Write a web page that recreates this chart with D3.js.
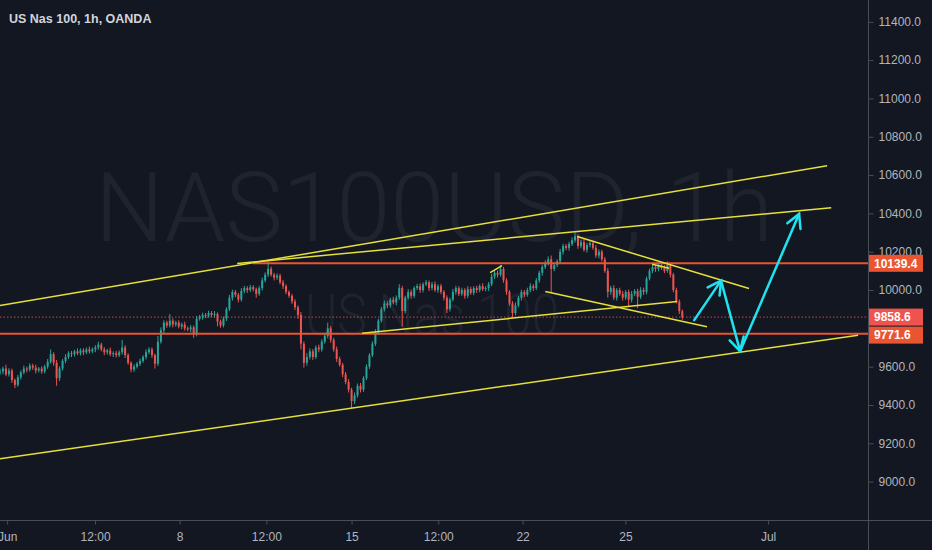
<!DOCTYPE html>
<html><head><meta charset="utf-8">
<script src="https://cdn.jsdelivr.net/npm/d3@7"></script>
<style>html,body{margin:0;padding:0;background:#131722;overflow:hidden}</style>
</head><body><svg id="c" width="932" height="550"></svg>
<script>
// ---- data (2-hour candles, open = previous close) ----
const firstOpen = 9570;
const closes = [
9575,9590,9560,9580,9530,9505,9545,9570,9590,9585,
9605,9595,9580,9590,9575,9600,9625,9665,9620,9540,
9590,9630,9650,9670,9665,9680,9670,9685,9675,9690,
9680,9690,9700,9715,9690,9675,9685,9665,9670,9660,
9675,9700,9660,9620,9585,9600,9615,9630,9650,9675,
9690,9660,9615,9730,9790,9830,9815,9840,9820,9830,
9810,9820,9800,9795,9805,9770,9850,9860,9870,9865,
9880,9870,9875,9835,9815,9850,9900,9960,9990,9975,
9950,9995,10010,10000,10015,10005,9980,10010,10050,10080,
10110,10080,10065,10075,10040,10020,9990,9970,9940,9910,
9870,9720,9620,9650,9680,9650,9700,9690,9730,9760,
9800,9740,9690,9640,9610,9560,9520,9480,9420,9450,
9500,9480,9540,9600,9660,9720,9780,9840,9900,9930,
9920,9950,9935,9960,10010,9890,9960,9990,9970,10010,
10020,10000,10030,10040,10010,10030,10000,10020,9990,9960,
9900,9950,9990,10010,9980,10000,9970,10005,9985,10010,
10000,10020,10005,10010,10030,10070,10090,10080,10110,10050,
9990,9930,9880,9920,9960,9990,9975,10000,10020,10010,
10050,10090,10120,10140,10160,10110,10130,10150,10200,10230,
10220,10240,10260,10280,10230,10250,10210,10235,10245,10220,
10180,10200,10160,10100,9990,10010,9960,10000,9980,9960,
9990,9950,9980,9995,9965,10000,9990,10060,10100,10120,
10110,10130,10115,10100,10130,10080,10000,9940,9890,9858.6];
const wickUp = [
15,10,20,12,10,8,12,10,15,10, 12,10,15,8,12,10,15,25,10,15,
12,10,15,10,12,8,15,10,12,10, 15,10,12,15,10,12,8,15,10,12,
10,40,12,10,8,12,10,12,10,15, 12,10,8,30,15,12,10,35,12,10,
12,10,15,10,12,10,15,10,12,10, 12,10,15,8,10,12,10,15,12,10,
10,15,12,10,12,10,8,12,15,12, 45,12,10,12,10,12,10,8,10,12,
10,15,12,20,15,12,10,15,12,15, 30,12,10,15,12,10,12,15,10,15,
12,15,10,12,10,12,15,10,12,15, 12,10,15,12,20,12,10,15,12,10,
12,15,10,12,10,12,15,10,12,10, 12,10,15,12,10,12,10,15,12,10,
12,10,15,10,12,15,10,12,20,10, 12,10,12,15,10,12,10,12,15,10,
12,10,12,15,15,20,12,10,15,12, 10,12,15,20,10,12,15,12,10,12,
15,12,10,12,15,12,15,10,12,15, 10,12,15,10,12,15,12,10,12,15,
10,12,10,15,20,12,10,12,10,8];
const wickDn = [
12,15,10,12,15,17,10,12,10,15, 10,12,15,10,12,10,12,10,15,40,
15,10,12,10,15,12,10,12,15,10, 12,10,15,12,10,15,12,10,15,12,
10,12,15,10,15,12,10,12,10,12, 10,15,25,12,10,15,12,10,15,12,
10,15,12,10,15,20,12,10,15,12, 10,12,15,25,12,10,12,10,15,12,
15,10,12,15,10,12,20,10,12,10, 12,10,15,12,10,15,12,10,12,15,
20,30,25,15,12,15,10,15,12,10, 12,15,12,15,10,15,12,15,36,15,
12,15,12,10,12,10,12,15,10,12, 15,12,10,15,12,80,12,10,15,12,
10,15,12,10,15,12,10,15,12,15, 20,12,10,15,12,10,15,12,10,12,
15,12,10,12,15,10,12,15,10,12, 15,12,23,12,10,15,12,10,12,15,
10,12,15,10,12,125,12,10,12,15, 12,15,10,12,15,12,10,15,12,10,
12,15,12,10,30,15,12,15,10,15, 12,40,15,12,60,12,15,12,10,12,
15,12,10,12,10,15,12,10,15,14];

const priceTicks = [9000,9200,9400,9600,9800,10000,10200,10400,10600,10800,11000,11200,11400];
const timeTickIdx = [2.4,31.9,60.3,89.4,118,147.1,175.4,209.9,257.8];
const timeTickLabels = ["Jun","12:00","8","12:00","15","12:00","22","25","Jul"];

const levelPrices = [10139.4, 9771.6];
const levelStartIdx = [85, -5];
const lastPrice = 9858.6;

// trend lines: [idx1, price1, idx2, price2]
const trendLines = [
  [0, 9919, 277.6, 10649],
  [79.6, 10138, 279, 10430],
  [0, 9119, 288, 9764],
  [121.5, 9774, 227.3, 9940],
  [183, 9992, 237.3, 9808],
  [193.7, 10279, 251.4, 10008],
  [164.5, 10091, 168.5, 10127],
  [218.9, 10135, 224.6, 10114]
];
// arrows: [idxFrom, priceFrom, idxTo, priceTo]
const arrows = [
  [233, 9843, 242, 10049],
  [242, 10049, 248.4, 9681],
  [248.4, 9681, 268.2, 10397]
];

// ---- drawing ----
const W = 932, H = 550, PW = 868, PH = 520;
const svg = d3.select("#c");
const x = d3.scaleLinear().domain([0, 292]).range([0, 870]);
const y = d3.scaleLinear().domain([9000, 11400]).range([481.6, 21.8]);

svg.append("rect").attr("width", W).attr("height", H).attr("fill", "#131722");
svg.append("defs").append("clipPath").attr("id", "plot")
  .append("rect").attr("width", PW).attr("height", PH);

// watermarks
const wm = svg.append("g").attr("fill", "rgba(255,255,255,0.055)").attr("font-family", "Roboto, 'Noto Sans', sans-serif").attr("font-weight", 300);
wm.append("text").attr("x", 95).attr("y", 241).attr("font-size", 96)
  .attr("textLength", 678).attr("lengthAdjust", "spacingAndGlyphs").text("NAS100USD, 1h");
wm.append("text").attr("x", 305).attr("y", 335).attr("font-size", 58)
  .attr("textLength", 254).attr("lengthAdjust", "spacingAndGlyphs").text("US Nas 100");

const plot = svg.append("g").attr("clip-path", "url(#plot)");

// candles
const candles = closes.map((c, i) => {
  const o = i === 0 ? firstOpen : closes[i - 1];
  return { i, o, c, h: Math.max(o, c) + wickUp[i], l: Math.min(o, c) - wickDn[i] };
});
const cg = plot.append("g");
cg.selectAll("line.w").data(candles).join("line")
  .attr("x1", d => x(d.i)).attr("x2", d => x(d.i))
  .attr("y1", d => y(d.h)).attr("y2", d => y(d.l))
  .attr("stroke", d => d.c >= d.o ? "#26a69a" : "#ef5350").attr("stroke-width", 1);
cg.selectAll("rect.b").data(candles).join("rect")
  .attr("x", d => x(d.i) - 1).attr("width", 2)
  .attr("y", d => y(Math.max(d.o, d.c)))
  .attr("height", d => Math.max(1, Math.abs(y(d.o) - y(d.c))))
  .attr("fill", d => d.c >= d.o ? "#26a69a" : "#ef5350");

// last price dotted line
plot.append("line").attr("x1", 0).attr("x2", PW).attr("y1", y(lastPrice)).attr("y2", y(lastPrice))
  .attr("stroke", "#ef5350").attr("stroke-width", 1).attr("stroke-dasharray", "1.5 2").attr("opacity", 0.85);

// horizontal levels
const orange = "#ea5430";
levelPrices.forEach((p, k) => {
  plot.append("line").attr("x1", x(levelStartIdx[k])).attr("x2", PW)
    .attr("y1", y(p)).attr("y2", y(p)).attr("stroke", orange).attr("stroke-width", 2);
});

// trend lines
plot.selectAll("line.t").data(trendLines).join("line")
  .attr("x1", d => x(d[0])).attr("y1", d => y(d[1]))
  .attr("x2", d => x(d[2])).attr("y2", d => y(d[3]))
  .attr("stroke", "#e6e03a").attr("stroke-width", 1.5);

// arrows
const cyan = "#1fe3f0";
arrows.forEach(a => {
  const x1 = x(a[0]), y1 = y(a[1]), x2 = x(a[2]), y2 = y(a[3]);
  const ang = Math.atan2(y1 - y2, x1 - x2), L = 15, sp = 0.5;
  const g = plot.append("g").attr("stroke", cyan).attr("stroke-width", 2.5).attr("stroke-linecap", "round").attr("fill", "none");
  g.append("line").attr("x1", x1).attr("y1", y1).attr("x2", x2).attr("y2", y2);
  g.append("path").attr("d",
    `M${x2 + L * Math.cos(ang + sp)},${y2 + L * Math.sin(ang + sp)}L${x2},${y2}L${x2 + L * Math.cos(ang - sp)},${y2 + L * Math.sin(ang - sp)}`);
});

// axes frame
svg.append("line").attr("x1", 0).attr("x2", W).attr("y1", PH + 0.5).attr("y2", PH + 0.5).attr("stroke", "#4a4d58");
svg.append("line").attr("x1", PW + 0.5).attr("x2", PW + 0.5).attr("y1", 0).attr("y2", H).attr("stroke", "#4a4d58");

// price label boxes (positions resolved first so covered tick labels can be hidden)
const boxes = [
  { p: levelPrices[0], col: orange },
  { p: lastPrice, col: "#ef5350" },
  { p: levelPrices[1], col: orange }
].map(b => ({ ...b, cy: y(b.p) })).sort((a, b) => a.cy - b.cy);
const BH = 17;
for (let k = 1; k < boxes.length; k++) {
  const minC = boxes[k - 1].cy + BH + 1;
  if (boxes[k].cy < minC) boxes[k].cy = minC;
}
const covered = v => boxes.some(b => Math.abs(y(v) - b.cy) < BH / 2);

// right axis
const ya = svg.append("g").attr("transform", `translate(${PW + 0.5},0)`)
  .call(d3.axisRight(y).tickValues(priceTicks).tickFormat(d => d.toFixed(1)).tickSize(5).tickPadding(5));
ya.select(".domain").remove();
ya.selectAll("line").attr("stroke", "#4a4d58");
ya.selectAll("text").attr("fill", "#b2b5be").attr("font-size", 12).attr("font-family", "'Liberation Sans', Arial, sans-serif")
  .style("display", d => covered(d) ? "none" : null);

// bottom axis
const xa = svg.append("g").attr("transform", `translate(0,${PH + 0.5})`)
  .call(d3.axisBottom(x).tickValues(timeTickIdx).tickFormat((d, i) => timeTickLabels[i]).tickSize(4).tickPadding(8));
xa.select(".domain").remove();
xa.selectAll("line").attr("stroke", "#4a4d58");
xa.selectAll("text").attr("fill", "#b2b5be").attr("font-size", 12).attr("font-family", "'Liberation Sans', Arial, sans-serif");

const bg = svg.append("g");
boxes.forEach(b => {
  bg.append("rect").attr("x", PW + 1).attr("y", b.cy - BH / 2).attr("width", 54).attr("height", BH).attr("fill", b.col);
  bg.append("text").attr("x", PW + 6).attr("y", b.cy + 4.3).attr("fill", "#ffffff")
    .attr("font-size", 12).attr("font-weight", "bold").attr("font-family", "'Liberation Sans', Arial, sans-serif")
    .text(b.p.toFixed(1));
});

// title
svg.append("text").attr("x", 9).attr("y", 22.5).attr("fill", "#d1d4dc")
  .attr("font-size", 12.5).attr("font-weight", "bold").attr("font-family", "'Liberation Sans', Arial, sans-serif")
  .text("US Nas 100, 1h, OANDA");
</script></body></html>
